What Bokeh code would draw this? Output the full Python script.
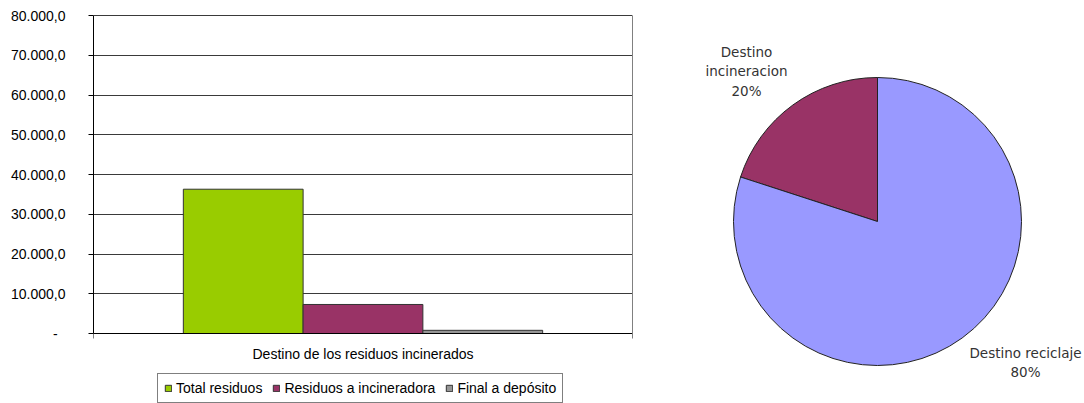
import math
from bokeh.plotting import figure
from bokeh.layouts import row
from bokeh.models import Range1d, FixedTicker, Legend, LegendItem, LinearAxis
from bokeh.core.properties import value
from bokeh.embed import file_html
from bokeh.resources import INLINE

# ---------------- data ----------------
series_names = ["Total residuos", "Residuos a incineradora", "Final a depósito"]
series_values = [36300, 7300, 800]
series_colors = ["#99CC00", "#993366", "#969696"]
category_label = "Destino de los residuos incinerados"

y_ticks = [0, 10000, 20000, 30000, 40000, 50000, 60000, 70000, 80000]
y_tick_labels = ["-\u00a0\u00a0", "10.000,0", "20.000,0", "30.000,0", "40.000,0",
                 "50.000,0", "60.000,0", "70.000,0", "80.000,0"]

pie_labels = ["Destino\nincineracion", "Destino reciclaje"]
pie_shares = [20, 80]
pie_colors = ["#993366", "#9999FF"]

FONT = "Liberation Sans"
H = 403
PLOT_TOP, PLOT_BOTTOM = 15, 333          # pixel rows of the value axis ends

# ---------------- bar chart ----------------
n = len(series_names)
y_min, y_max = y_ticks[0], y_ticks[-1]
upp = (y_max - y_min) / (PLOT_BOTTOM - PLOT_TOP)   # units per pixel
p = figure(width=640, height=H,
           x_range=Range1d(-1.25, n + 0.25),
           y_range=Range1d(y_min - (H - PLOT_BOTTOM) * upp, y_max + PLOT_TOP * upp),
           output_backend="svg", toolbar_location=None,
           min_border_left=93, min_border_right=8, min_border_top=0, min_border_bottom=0)
p.background_fill_color = "white"
p.border_fill_color = "white"
p.outline_line_color = None

items = []
for i, (name, val, col) in enumerate(zip(series_names, series_values, series_colors)):
    r = p.vbar(x=[i], top=[val], bottom=y_min, width=1.0, fill_color=col,
               line_color="#333333", line_width=1)
    items.append(LegendItem(label=name, renderers=[r]))

center = (n - 1) / 2
p.xaxis.fixed_location = y_min
p.xaxis.ticker = FixedTicker(ticks=[center], minor_ticks=[-1.25, n + 0.25])
p.xaxis.major_label_overrides = {center: category_label}
p.xaxis.major_tick_out = 0
p.xaxis.major_tick_in = 0
p.xaxis.minor_tick_out = 5
p.xaxis.minor_tick_in = 0
p.xaxis.minor_tick_line_color = "black"
p.xaxis.major_label_standoff = 7

p.yaxis.bounds = (y_min, y_max)
p.yaxis.ticker = FixedTicker(ticks=y_ticks)
p.yaxis.major_label_overrides = dict(zip(y_ticks, y_tick_labels))
p.yaxis.major_tick_out = 5
p.yaxis.major_tick_in = 0
p.yaxis.minor_tick_line_color = None
p.yaxis.major_label_standoff = 23

for ax in (p.xaxis, p.yaxis):
    ax.axis_line_color = "black"
    ax.axis_line_width = 1
    ax.major_tick_line_color = "black"
    ax.major_label_text_font = FONT
    ax.major_label_text_font_size = "14px"
    ax.major_label_text_color = "black"

# right border of the plot area
rax = LinearAxis(bounds=(y_min, y_max), ticker=FixedTicker(ticks=[]),
                 axis_line_color="#808080", major_tick_line_color=None,
                 minor_tick_line_color=None, major_label_text_font_size="0px")
p.add_layout(rax, "right")

p.xgrid.visible = False
p.ygrid.ticker = FixedTicker(ticks=y_ticks)
p.ygrid.grid_line_color = "#3a3a3a"
p.ygrid.grid_line_width = 1

legend = Legend(items=items, orientation="horizontal", location=(64, 0),
                label_text_font=FONT, label_text_font_size="14px", label_text_color="black",
                glyph_width=8, glyph_height=8, label_standoff=4, spacing=10, padding=6,
                label_height=13, margin=0,
                border_line_color="black", border_line_width=1,
                background_fill_color="white", background_fill_alpha=1.0)
p.add_layout(legend, "center")

# ---------------- pie chart ----------------
q = figure(width=444, height=H, x_range=Range1d(-237, 207), y_range=Range1d(-182, 221),
           output_backend="svg", toolbar_location=None, min_border=0,
           x_axis_type=None, y_axis_type=None)
q.grid.visible = False
q.outline_line_color = None
q.background_fill_color = "white"
q.border_fill_color = "white"

total = sum(pie_shares)
start = math.pi / 2
starts, ends = [], []
for s in pie_shares:
    starts.append(start)
    start = start + 2 * math.pi * s / total
    ends.append(start)
q.wedge(x=[0] * len(pie_shares), y=[0] * len(pie_shares), radius=144,
        start_angle=starts, end_angle=ends, fill_color=pie_colors,
        line_color="#222222", line_width=1)

label_x = [-131, 148]
label_y = [150, -141]
texts = [f"{lab}\n{s}%" for lab, s in zip(pie_labels, pie_shares)]
q.text(x=label_x, y=label_y, text=texts, text_align="center", text_baseline="middle",
       text_font=value("DejaVu Sans"), text_font_size="13.5px", text_color="#333333",
       text_line_height=1.22)

layout = row(p, q)
open("out.html", "w").write(file_html(layout, INLINE))
